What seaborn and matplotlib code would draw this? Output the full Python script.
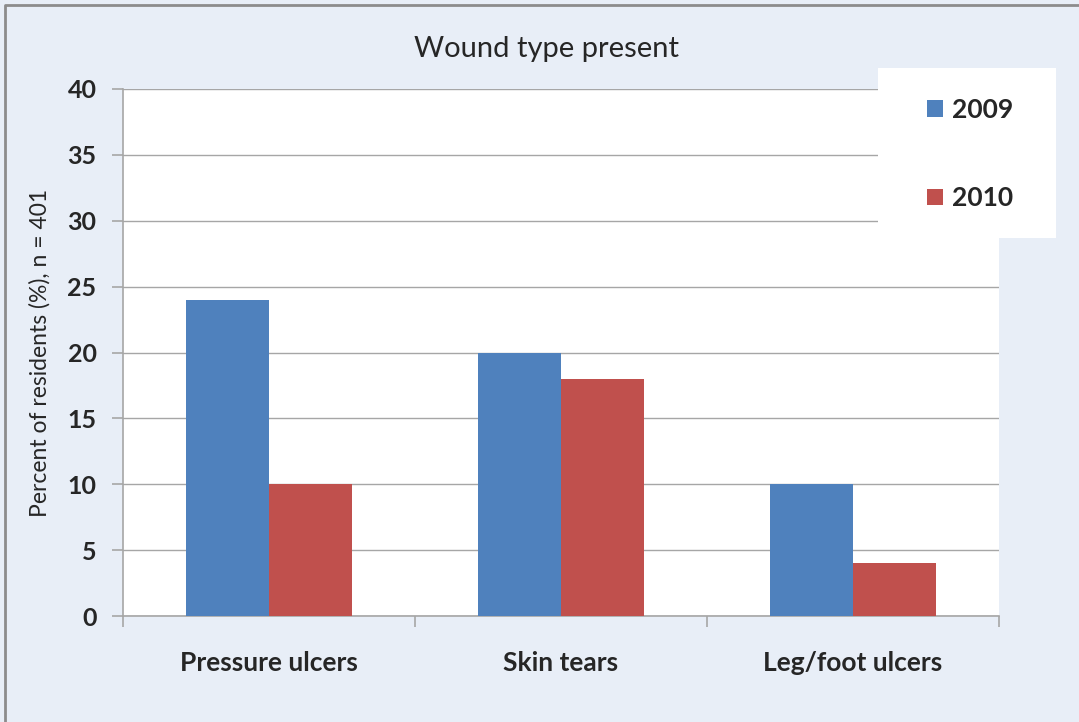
import pandas as pd
import seaborn as sns
import matplotlib.pyplot as plt
from matplotlib.patches import Rectangle
from matplotlib.lines import Line2D

categories = ['Pressure ulcers', 'Skin tears', 'Leg/foot ulcers']
years = ['2009', '2010']
pct_2009 = [24, 20, 10]
pct_2010 = [10, 18, 4]

df = pd.DataFrame({
    'wound': categories * 2,
    'year': [years[0]] * 3 + [years[1]] * 3,
    'pct': pct_2009 + pct_2010,
})

sns.set_style('white')
plt.rcParams['font.family'] = ['Lato', 'DejaVu Sans']

bg = '#E8EEF7'
grid_c = '#A6A6A6'

fig = plt.figure(figsize=(10.79, 7.22), dpi=100, facecolor=bg)
# outer chart border (only top and left visible in the crop)
fig.lines.append(Line2D([5 / 1079, 5 / 1079, 1], [0, 1 - 5 / 722, 1 - 5 / 722],
                        transform=fig.transFigure, color='#8C8C8C', linewidth=2))
ax = fig.add_axes([123 / 1079, 1 - 616 / 722, 876 / 1079, 527 / 722])
ax.set_facecolor('white')

sns.barplot(data=df, x='wound', y='pct', hue='year', order=categories,
            hue_order=years, palette=['#4F81BD', '#C0504D'],
            width=0.57, gap=0, saturation=1, linewidth=0, ax=ax,
            legend=True, zorder=3)

ax.set_ylim(0, 40)
ax.set_yticks(range(0, 41, 5))
ax.set_xlim(-0.5, 2.5)
ax.yaxis.grid(True, color=grid_c, linewidth=1)
ax.set_axisbelow(True)

for s in ['top', 'right']:
    ax.spines[s].set_visible(False)
for s in ['left', 'bottom']:
    ax.spines[s].set_color(grid_c)
    ax.spines[s].set_linewidth(1.2)

ax.tick_params(axis='y', which='major', direction='out', length=8,
               color=grid_c, width=1.2, left=True, labelsize=18, pad=11)
ax.set_xticks([0, 1, 2])
ax.set_xticklabels(categories, fontsize=19, fontweight='bold')
ax.set_xticks([-0.5, 0.5, 1.5, 2.5], minor=True)
ax.tick_params(axis='x', which='major', length=0, pad=25)
ax.tick_params(axis='x', which='minor', direction='out', length=8,
               color=grid_c, width=1.2, bottom=True)
for lbl in ax.get_yticklabels():
    lbl.set_fontweight('bold')

ax.set_xlabel('')
ax.set_ylabel('Percent of residents (%), n = 401', fontsize=16.5, labelpad=12)
ax.set_title('Wound type present', fontsize=21, pad=23, x=0.483)

# white legend panel
fig.patches.append(Rectangle((878 / 1079, 1 - 238 / 722), 178 / 1079, 170 / 722,
                             transform=fig.transFigure, facecolor='white',
                             edgecolor='none', zorder=5))
ax.get_legend().remove()
handles, labels = ax.get_legend_handles_labels()
leg = fig.legend(handles, labels, loc='upper left',
                 bbox_to_anchor=(903 / 1079, 1 - 74 / 722), frameon=False,
                 handlelength=0.6, handleheight=0.6, handletextpad=0.35,
                 labelspacing=2.45, prop={'size': 19, 'weight': 'bold'})
leg.set_zorder(6)

fig.savefig('out.png', dpi=100, facecolor=bg)
